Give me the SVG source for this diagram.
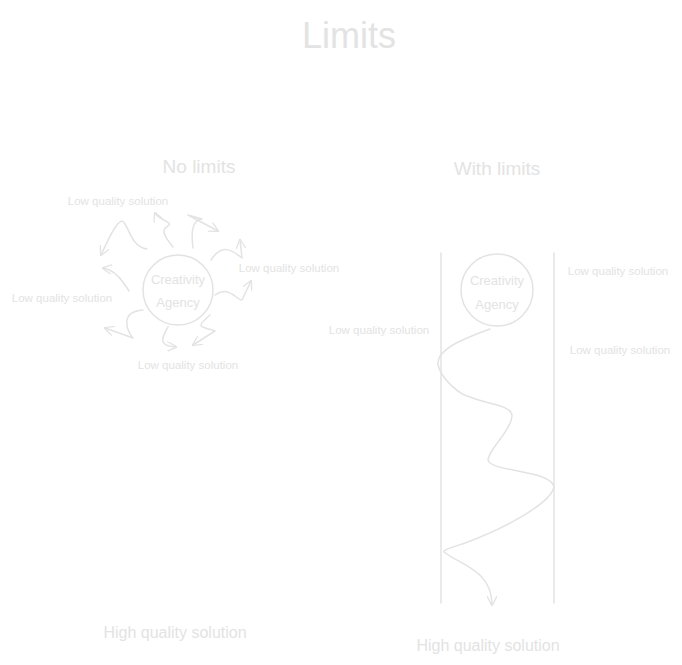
<svg xmlns="http://www.w3.org/2000/svg" width="682" height="665" viewBox="0 0 682 665">
<defs>
<style>
.s{fill:none;stroke:#e3e3e3;stroke-width:1.5;stroke-linecap:round;stroke-linejoin:round}
.t{fill:#e3e3e3;font-family:"Liberation Sans",sans-serif;text-anchor:middle}
.lq{font-size:11.5px}
</style>
<marker id="a" viewBox="0 0 10 10" refX="9" refY="5" markerWidth="10" markerHeight="10" orient="auto" markerUnits="userSpaceOnUse"><path d="M0,0 L10,5 L0,10" fill="none" stroke="#e3e3e3" stroke-width="1.3"/></marker>
</defs>
<rect width="682" height="665" fill="#fff"/>
<text class="t" x="349" y="48" font-size="36">Limits</text>
<text class="t" x="199" y="173" font-size="19">No limits</text>
<text class="t" x="497" y="175" font-size="19">With limits</text>
<g id="left-circle"><circle class="s" cx="178" cy="290" r="35"/>
<text class="t" x="178" y="284" font-size="13">Creativity</text>
<text class="t" x="178" y="307" font-size="13">Agency</text></g>
<g id="right-circle"><circle class="s" cx="497" cy="290" r="36"/>
<text class="t" x="497" y="285" font-size="13">Creativity</text>
<text class="t" x="497" y="309" font-size="13">Agency</text></g>
<g id="labels">
<text class="t lq" x="118" y="205">Low quality solution</text>
<text class="t lq" x="289" y="272">Low quality solution</text>
<text class="t lq" x="62" y="302">Low quality solution</text>
<text class="t lq" x="188" y="369">Low quality solution</text>
<text class="t lq" x="379" y="334">Low quality solution</text>
<text class="t lq" x="618" y="275">Low quality solution</text>
<text class="t lq" x="620" y="354">Low quality solution</text>
<text class="t" x="175" y="638" font-size="16">High quality solution</text>
<text class="t" x="488" y="651" font-size="16">High quality solution</text>
</g>
<g id="connectors">
<path class="s" marker-end="url(#a)" d="M147,249 C130,247 128,222 122,221 C116,222 108,240 101,255"/>
<path class="s" marker-end="url(#a)" d="M173,247 C165,237 160,230 168,226 C174,222 158,220 155,213"/>
<path class="s" marker-end="url(#a)" d="M193,248 C191,232 192,220 202,219 L188,215 L218,231"/>
<path class="s" marker-end="url(#a)" d="M211,260 C222,243 232,250 242,258 L240,240"/>
<path class="s" marker-end="url(#a)" d="M215,295 C230,285 236,300 242,300 L251,281"/>
<path class="s" marker-end="url(#a)" d="M129,291 C122,280 115,270 103,268"/>
<path class="s" marker-end="url(#a)" d="M143,310 C118,312 128,332 133,338 L105,328"/>
<path class="s" marker-end="url(#a)" d="M168,327 C160,340 160,346 176,347"/>
<path class="s" marker-end="url(#a)" d="M210,315 C195,328 200,326 215,331 L193,345"/>
<path class="s" d="M441,253 L441,603"/>
<path class="s" d="M554,253 L554,603"/>
<path class="s" marker-end="url(#a)" d="M490,329 C460,340 436,350 438,365 C442,380 460,395 470,397 C490,405 510,405 512,415 C512,430 488,450 488,460 C490,472 552,470 554,487 C550,505 500,530 465,543 C450,548 443,550 444,552 C460,565 492,570 492,605"/>
</g>
</svg>
